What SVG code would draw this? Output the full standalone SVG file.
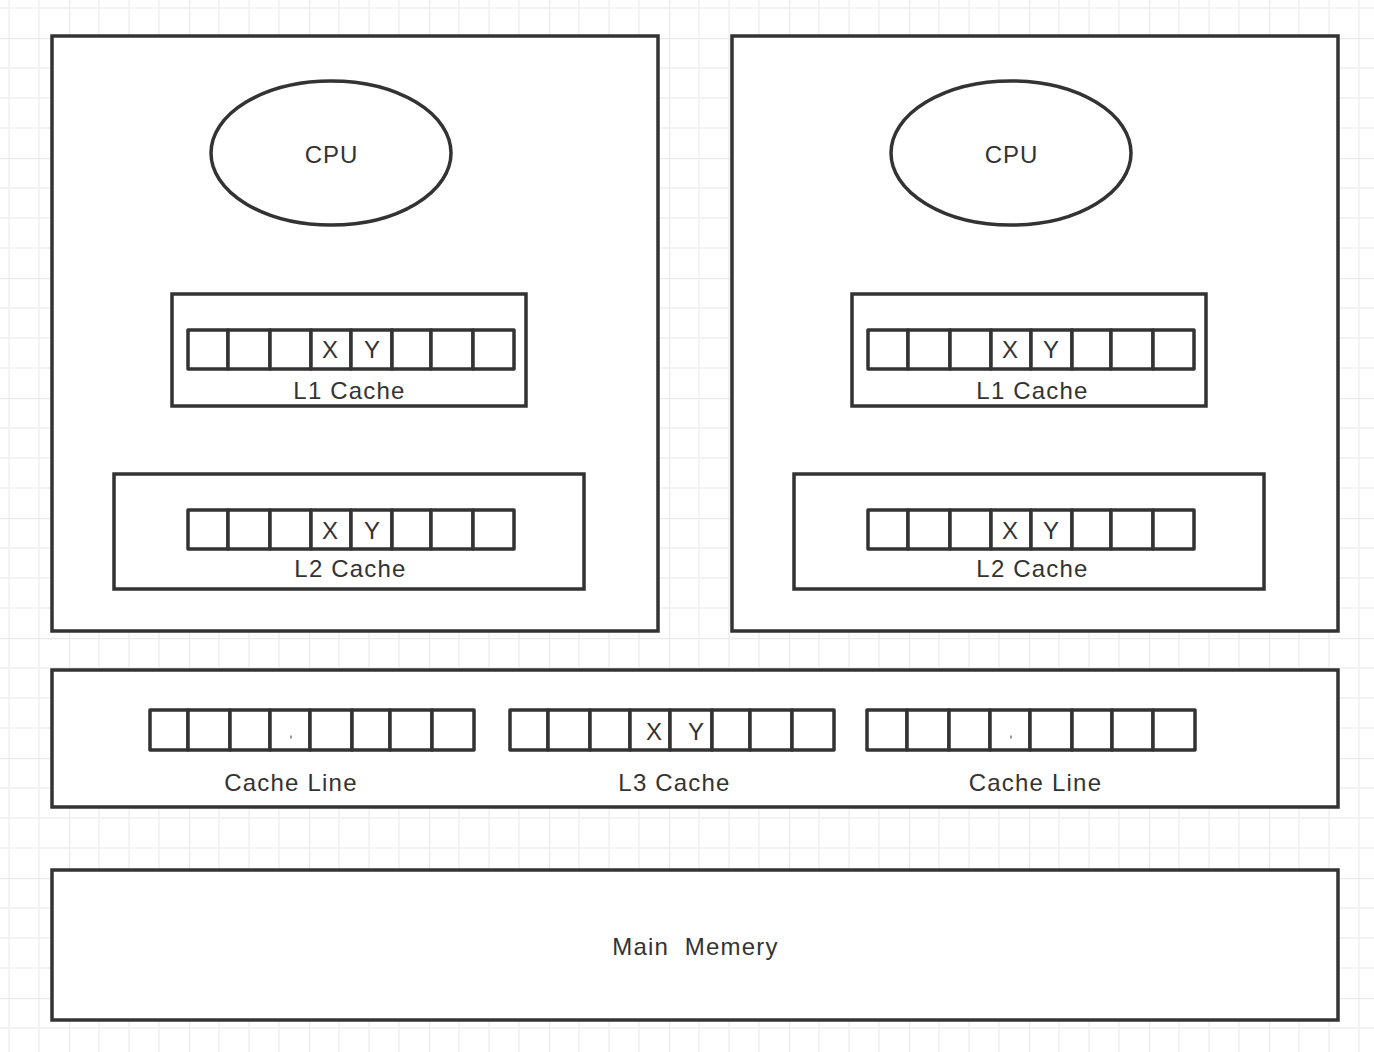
<svg xmlns="http://www.w3.org/2000/svg" width="1374" height="1052" viewBox="0 0 1374 1052">
<style>
.box{fill:#ffffff;stroke:#333333;stroke-width:3.5}
.cell{fill:#ffffff;stroke:#333333;stroke-width:3.5;stroke-linejoin:round}
.t{font-family:"Liberation Sans",Arial,sans-serif;fill:#333333;text-anchor:middle}
.lbl{font-size:24px;letter-spacing:1.2px}
.cpu{font-size:24px;letter-spacing:1px}
.xy{font-size:24px}
</style>
<defs>
<pattern id="grid" patternUnits="userSpaceOnUse" x="69" y="38" width="120" height="120">
<path d="M30 0V120M60 0V120M90 0V120M0 30H120M0 60H120M0 90H120" stroke="#f3f3f3" stroke-width="2" fill="none"/>
<path d="M0 0V120M0 0H120" stroke="#ebebeb" stroke-width="2.5" fill="none"/>
</pattern>
</defs>
<rect x="0" y="0" width="1374" height="1052" fill="#ffffff"/>
<rect x="0" y="0" width="1374" height="1052" fill="url(#grid)"/>

<g id="core-left">
<rect class="box" x="52" y="36" width="606" height="595"/>
</g>
<g id="core-right">
<rect class="box" x="732" y="36" width="606" height="595"/>
</g>

<g id="cpu-left">
<ellipse class="box" cx="331" cy="153" rx="120" ry="72"/>
<text class="t cpu" x="331.5" y="163">CPU</text>
</g>
<g id="cpu-right">
<ellipse class="box" cx="1011" cy="153" rx="120" ry="72"/>
<text class="t cpu" x="1011.5" y="163">CPU</text>
</g>

<g id="l1-left">
<rect class="box" x="172" y="294" width="354" height="112"/>
<g>
<rect class="cell" x="188" y="330" width="40" height="39"/>
<rect class="cell" x="228" y="330" width="42" height="39"/>
<rect class="cell" x="270" y="330" width="41" height="39"/>
<rect class="cell" x="311" y="330" width="40" height="39"/>
<rect class="cell" x="351" y="330" width="41" height="39"/>
<rect class="cell" x="392" y="330" width="39" height="39"/>
<rect class="cell" x="431" y="330" width="42" height="39"/>
<rect class="cell" x="473" y="330" width="41" height="39"/>
</g>
<text class="t xy" x="330" y="358">X</text>
<text class="t xy" x="372" y="358">Y</text>
<text class="t lbl" x="349.5" y="399">L1 Cache</text>
</g>

<g id="l1-right">
<rect class="box" x="852" y="294" width="354" height="112"/>
<g>
<rect class="cell" x="868" y="330" width="40" height="39"/>
<rect class="cell" x="908" y="330" width="42" height="39"/>
<rect class="cell" x="950" y="330" width="41" height="39"/>
<rect class="cell" x="991" y="330" width="40" height="39"/>
<rect class="cell" x="1031" y="330" width="41" height="39"/>
<rect class="cell" x="1072" y="330" width="39" height="39"/>
<rect class="cell" x="1111" y="330" width="42" height="39"/>
<rect class="cell" x="1153" y="330" width="41" height="39"/>
</g>
<text class="t xy" x="1010" y="358">X</text>
<text class="t xy" x="1051" y="358">Y</text>
<text class="t lbl" x="1032.5" y="399">L1 Cache</text>
</g>

<g id="l2-left">
<rect class="box" x="114" y="474" width="470" height="115"/>
<g>
<rect class="cell" x="188" y="510" width="40" height="39"/>
<rect class="cell" x="228" y="510" width="42" height="39"/>
<rect class="cell" x="270" y="510" width="41" height="39"/>
<rect class="cell" x="311" y="510" width="40" height="39"/>
<rect class="cell" x="351" y="510" width="41" height="39"/>
<rect class="cell" x="392" y="510" width="39" height="39"/>
<rect class="cell" x="431" y="510" width="42" height="39"/>
<rect class="cell" x="473" y="510" width="41" height="39"/>
</g>
<text class="t xy" x="330" y="539">X</text>
<text class="t xy" x="372" y="539">Y</text>
<text class="t lbl" x="350.5" y="577">L2 Cache</text>
</g>

<g id="l2-right">
<rect class="box" x="794" y="474" width="470" height="115"/>
<g>
<rect class="cell" x="868" y="510" width="40" height="39"/>
<rect class="cell" x="908" y="510" width="42" height="39"/>
<rect class="cell" x="950" y="510" width="41" height="39"/>
<rect class="cell" x="991" y="510" width="40" height="39"/>
<rect class="cell" x="1031" y="510" width="41" height="39"/>
<rect class="cell" x="1072" y="510" width="39" height="39"/>
<rect class="cell" x="1111" y="510" width="42" height="39"/>
<rect class="cell" x="1153" y="510" width="41" height="39"/>
</g>
<text class="t xy" x="1010" y="539">X</text>
<text class="t xy" x="1051" y="539">Y</text>
<text class="t lbl" x="1032.5" y="577">L2 Cache</text>
</g>

<g id="l3">
<rect class="box" x="52" y="670" width="1286" height="137"/>
<g id="l3-line-left">
<rect class="cell" x="150" y="710" width="38" height="40"/>
<rect class="cell" x="188" y="710" width="42" height="40"/>
<rect class="cell" x="230" y="710" width="40" height="40"/>
<rect class="cell" x="270" y="710" width="40" height="40"/>
<rect class="cell" x="310" y="710" width="42" height="40"/>
<rect class="cell" x="352" y="710" width="38" height="40"/>
<rect class="cell" x="390" y="710" width="42" height="40"/>
<rect class="cell" x="432" y="710" width="42" height="40"/>
<path d="M291 735.5V738.5" stroke="#333333" stroke-width="1"/>
<text class="t lbl" x="291" y="791">Cache Line</text>
</g>
<g id="l3-line-mid">
<rect class="cell" x="510" y="710" width="38" height="40"/>
<rect class="cell" x="548" y="710" width="42" height="40"/>
<rect class="cell" x="590" y="710" width="40" height="40"/>
<rect class="cell" x="630" y="710" width="40" height="40"/>
<rect class="cell" x="670" y="710" width="42" height="40"/>
<rect class="cell" x="712" y="710" width="38" height="40"/>
<rect class="cell" x="750" y="710" width="42" height="40"/>
<rect class="cell" x="792" y="710" width="42" height="40"/>
<text class="t xy" x="654" y="740">X</text>
<text class="t xy" x="696" y="740">Y</text>
<text class="t lbl" x="674.5" y="791">L3 Cache</text>
</g>
<g id="l3-line-right">
<rect class="cell" x="867" y="710" width="40" height="40"/>
<rect class="cell" x="907" y="710" width="42" height="40"/>
<rect class="cell" x="949" y="710" width="41" height="40"/>
<rect class="cell" x="990" y="710" width="40" height="40"/>
<rect class="cell" x="1030" y="710" width="42" height="40"/>
<rect class="cell" x="1072" y="710" width="40" height="40"/>
<rect class="cell" x="1112" y="710" width="41" height="40"/>
<rect class="cell" x="1153" y="710" width="42" height="40"/>
<path d="M1011 735.5V738.5" stroke="#333333" stroke-width="1"/>
<text class="t lbl" x="1035.5" y="791">Cache Line</text>
</g>
</g>

<g id="main-memory">
<rect class="box" x="52" y="870" width="1286" height="150"/>
<text class="t lbl" x="695.5" y="955">Main&#160; Memery</text>
</g>

<g id="connectors"></g>
</svg>
